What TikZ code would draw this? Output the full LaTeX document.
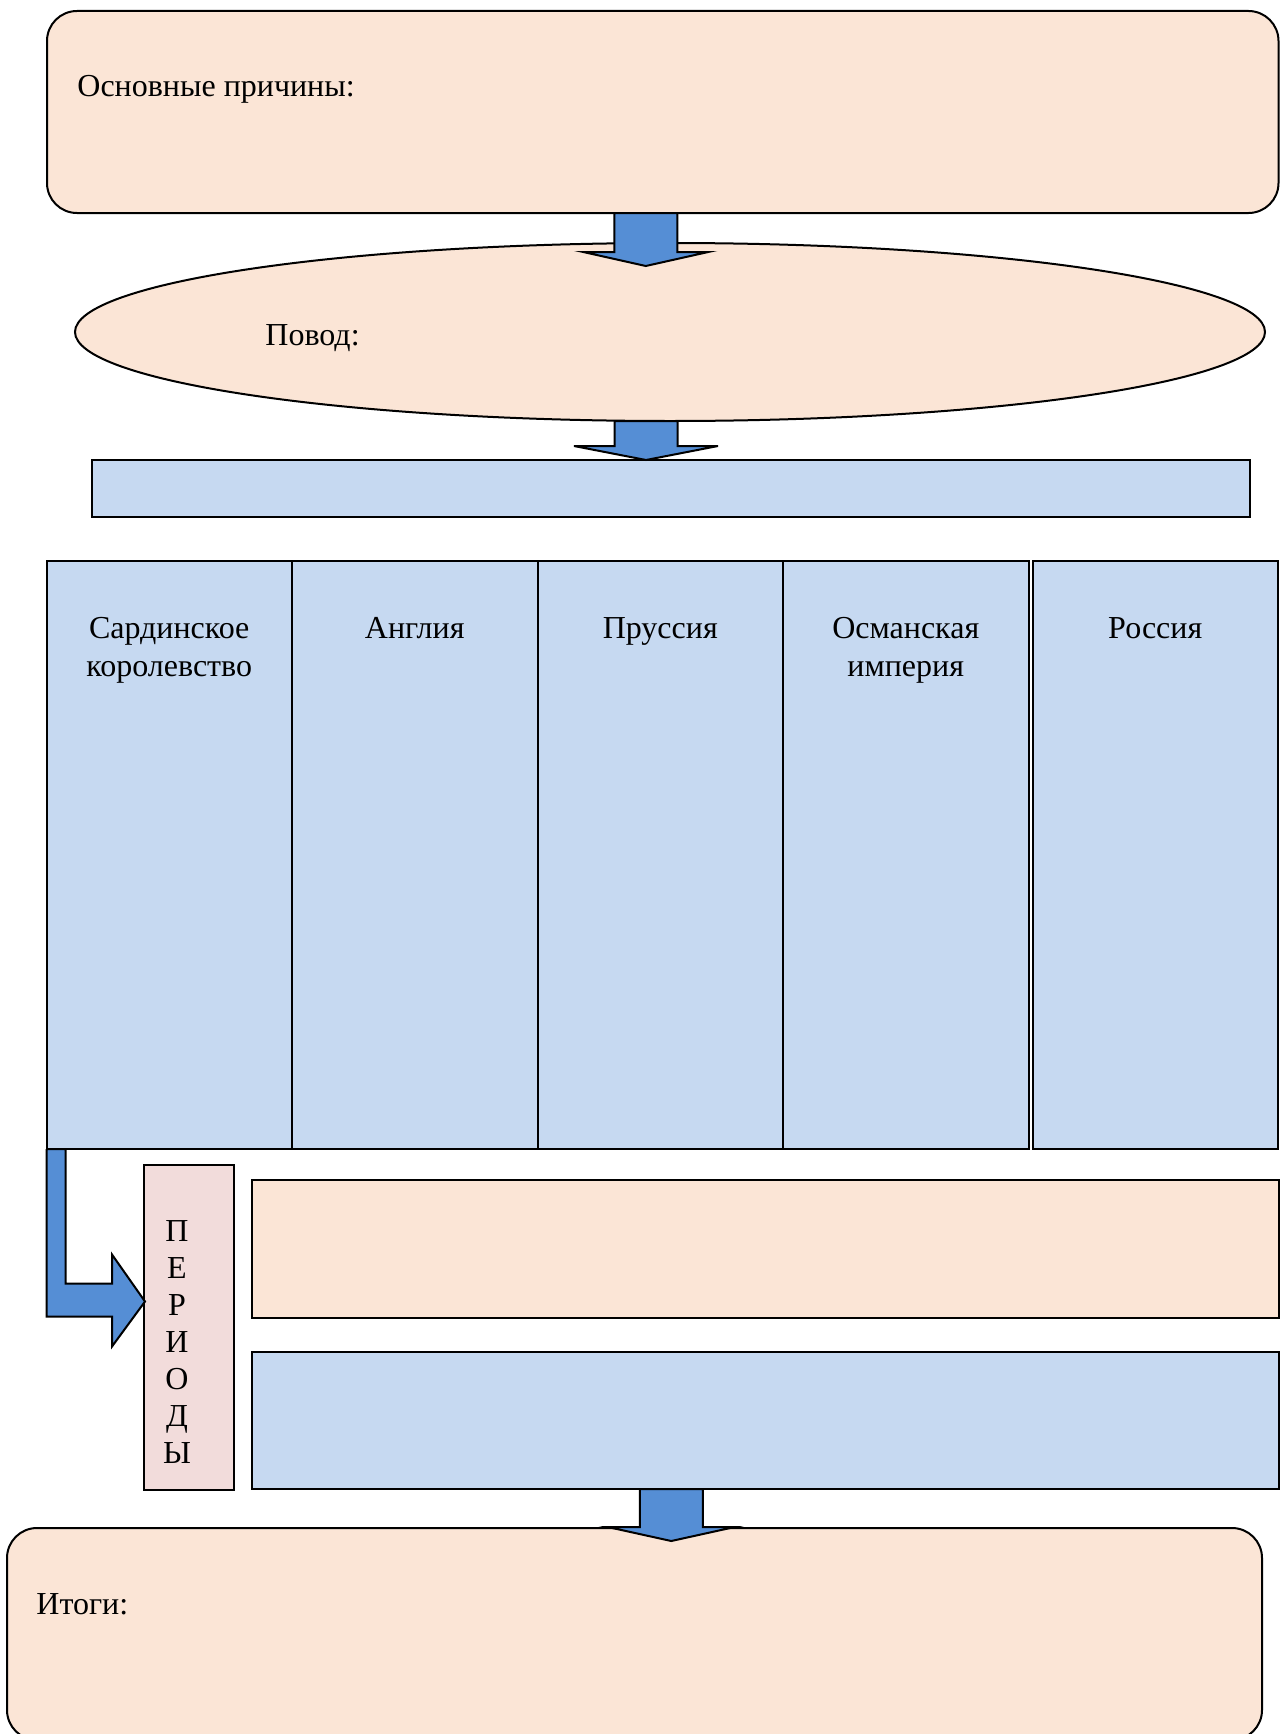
\documentclass[tikz,border=0pt]{standalone}
\usepackage{fontspec}
\setmainfont{Liberation Serif}
\usetikzlibrary{shapes.geometric, positioning, calc}

\definecolor{peach}{HTML}{FBE5D6}
\definecolor{paleblue}{HTML}{C6D9F1}
\definecolor{arrowblue}{HTML}{558ED5}
\definecolor{palepink}{HTML}{F2DCDB}

% down block arrow: top of shaft, tip, half width of head
\newcommand{\blockdown}[3]{%
  \draw[blockarrow] ($(#1)+(-31.5,0)$) -- ($(#1)+(31.5,0)$) -- ($(#2)+(31.5,-14)$) -- ($(#2)+(#3,-14)$)
    -- (#2) -- ($(#2)+(-#3,-14)$) -- ($(#2)+(-31.5,-14)$) -- cycle;}

\begin{document}
\begin{tikzpicture}[x=0.5pt, y=-0.5pt, font=\fontsize{16}{19}\selectfont,
          roundbox/.style={rectangle, draw=black, fill=peach, line width=1pt, rounded corners=15pt, outer sep=0pt},
          plainbox/.style={rectangle, draw=black, line width=1pt, outer sep=0pt, inner sep=0pt},
          colbox/.style={plainbox, fill=paleblue, minimum width=122.75pt, minimum height=294pt},
          colhead/.style={anchor=north, inner sep=0pt, align=center, yshift=-28pt},
          blockarrow/.style={draw=black, fill=arrowblue, line width=1pt, line join=miter}]
        \clip (0,0) rectangle (1280,1734);

        % causes and reason
        \node [roundbox, minimum width=615.75pt, minimum height=101pt] (cause) at (662.75,112) {};
        \node [anchor=base west, inner sep=0pt] (causelbl) at (77,97) {Основные причины:};
        \node [ellipse, draw=black, fill=peach, line width=1pt, inner sep=0pt, outer sep=0pt,
               minimum width=595pt, minimum height=89pt] (reason) at (670,332) {};
        \node [anchor=base west, inner sep=0pt] (reasonlbl) at (265,345) {Повод:};
        \path (cause.south) ++(-17,0) coordinate (a1top) ++(0,53) coordinate (a1tip);
        \blockdown{a1top}{a1tip}{62.5}

        \node [plainbox, fill=paleblue, minimum width=579pt, minimum height=28.5pt] (bar) at (671,488.5) {};
        \path (reason.south) ++(-24,0) coordinate (a2top) ++(0,39) coordinate (a2tip);
        \blockdown{a2top}{a2tip}{72}

        % participants
        \node [colbox, label={[colhead]north:Сардинское\\королевство}] (col1) at (169.25,855) {};
        \node [colbox, right=0pt of col1, label={[colhead]north:Англия}] (col2) {};
        \node [colbox, right=0pt of col2, label={[colhead]north:Пруссия}] (col3) {};
        \node [colbox, right=0pt of col3, label={[colhead]north:Османская\\империя}] (col4) {};
        \node [colbox, right=2pt of col4, label={[colhead]north:Россия}] (col5) {};

        % periods
        \node [plainbox, fill=palepink, minimum width=45pt, minimum height=162.5pt,
               label={[align=center, xshift=-6pt, yshift=-7.25pt, font=\fontsize{16}{18.45}\selectfont]center:П\\Е\\Р\\И\\О\\Д\\Ы}] (periods) at (189,1327.5) {};
        \node [plainbox, fill=peach, minimum width=513.25pt, minimum height=69pt] (stage1) at (765.25,1249) {};
        \node [plainbox, fill=paleblue, minimum width=513.25pt, minimum height=68.5pt, below=17pt of stage1] (stage2) {};
        \coordinate (bendtip) at ($(periods.west)+(1,-26)$);
        \draw [blockarrow] (col1.south west) -- ++(19,0) |- ($(bendtip)+(-33,-18)$) -- ($(bendtip)+(-33,-47)$)
          -- (bendtip) -- ($(bendtip)+(-33,45)$) -- ($(bendtip)+(-33,15)$) -| (col1.south west);

        % results
        \node [roundbox, minimum width=627.5pt, minimum height=106pt] (result) at (634.5,1634) {};
        \node [anchor=base west, inner sep=0pt] (resultlbl) at (36,1614) {Итоги:};
        \path (stage2.south) ++(-94,0) coordinate (a4top) ++(0,52) coordinate (a4tip);
        \blockdown{a4top}{a4tip}{63.5}
      \end{tikzpicture}
\end{document}
